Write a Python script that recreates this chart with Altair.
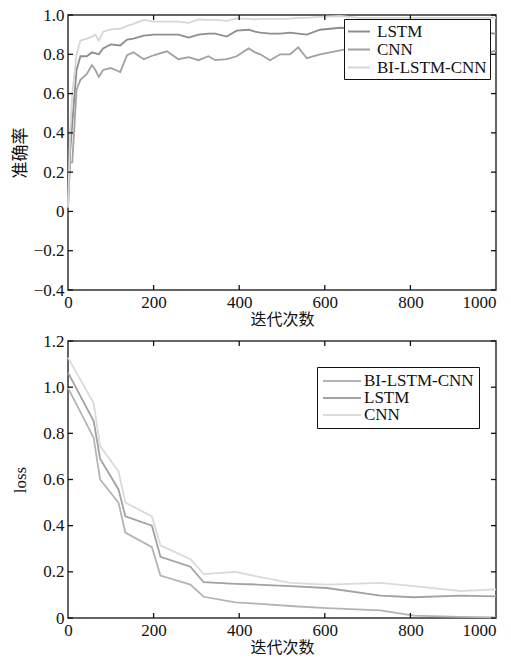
import altair as alt
import pandas as pd

# ---- accuracy chart data ----
acc_iter = [0, 5, 10, 20, 29, 44, 56, 64, 72, 82, 100, 122, 138, 153, 177, 200, 231, 258, 282, 305,
            328, 344, 371, 394, 422, 437, 449, 472, 496, 519, 538, 558, 589, 636, 680, 720, 760,
            800, 840, 880, 920, 960, 1000]
acc_lstm = [0.02, 0.30, 0.45, 0.72, 0.79, 0.79, 0.81, 0.805, 0.80, 0.83, 0.85, 0.845, 0.875, 0.88,
            0.895, 0.90, 0.90, 0.90, 0.885, 0.90, 0.905, 0.905, 0.89, 0.92, 0.925, 0.915, 0.91,
            0.905, 0.905, 0.91, 0.905, 0.90, 0.925, 0.935, 0.93, 0.925, 0.93, 0.925, 0.92, 0.92,
            0.915, 0.91, 0.905]
acc_cnn = [0.02, 0.25, 0.25, 0.62, 0.67, 0.70, 0.745, 0.72, 0.685, 0.72, 0.73, 0.71, 0.795, 0.81,
           0.775, 0.795, 0.815, 0.775, 0.785, 0.77, 0.79, 0.77, 0.775, 0.79, 0.83, 0.81, 0.80,
           0.77, 0.80, 0.80, 0.835, 0.78, 0.80, 0.82, 0.84, 0.85, 0.86, 0.85, 0.83, 0.82, 0.81,
           0.79, 0.82]
acc_bi = [0.02, 0.40, 0.60, 0.80, 0.87, 0.88, 0.89, 0.90, 0.87, 0.915, 0.927, 0.93, 0.945, 0.955,
          0.975, 0.966, 0.966, 0.966, 0.96, 0.978, 0.975, 0.975, 0.97, 0.983, 0.98, 0.978, 0.98,
          0.98, 0.98, 0.982, 0.985, 0.985, 0.99, 0.995, 0.985, 0.985, 0.985, 0.985, 0.985, 0.985,
          0.985, 0.985, 0.985]

# ---- loss chart data ----
loss_iter = [0, 60, 75, 118, 134, 196, 216, 286, 317, 391, 441, 519, 605, 730, 808, 917, 1000]
loss_cnn = [1.128, 0.93, 0.745, 0.635, 0.50, 0.44, 0.315, 0.255, 0.19, 0.20, 0.18, 0.152, 0.145,
            0.152, 0.138, 0.117, 0.124]
loss_lstm = [1.063, 0.853, 0.69, 0.557, 0.44, 0.40, 0.265, 0.222, 0.155, 0.148, 0.145, 0.138, 0.13,
             0.097, 0.09, 0.097, 0.094]
loss_bi = [0.997, 0.78, 0.60, 0.50, 0.37, 0.307, 0.184, 0.145, 0.092, 0.068, 0.062, 0.052, 0.043,
           0.033, 0.01, 0.005, 0.003]

acc_names = ["LSTM", "CNN", "BI-LSTM-CNN"]
loss_names = ["BI-LSTM-CNN", "LSTM", "CNN"]
acc_colors = ["#8e8e8e", "#a2a2a2", "#d6d6d6"]
loss_colors = ["#b4b4b4", "#a2a2a2", "#dadada"]

x_ticks = [0, 200, 400, 600, 800, 1000]
inner_x_ticks = [200, 400, 600, 800]
acc_y_ticks = [-0.4, -0.2, 0, 0.2, 0.4, 0.6, 0.8, 1.0]
loss_y_ticks = [0, 0.2, 0.4, 0.6, 0.8, 1.0, 1.2]

W, H1, H2 = 428, 275, 277
SERIF = "'Liberation Serif', 'Times New Roman', 'DejaVu Serif', serif"
CJK = "'Noto Sans CJK SC', sans-serif"

acc_df = pd.concat([
    pd.DataFrame({"iter": acc_iter, "value": acc_lstm, "model": "LSTM"}),
    pd.DataFrame({"iter": acc_iter, "value": acc_cnn, "model": "CNN"}),
    pd.DataFrame({"iter": acc_iter, "value": acc_bi, "model": "BI-LSTM-CNN"}),
])
loss_df = pd.concat([
    pd.DataFrame({"iter": loss_iter, "value": loss_bi, "model": "BI-LSTM-CNN"}),
    pd.DataFrame({"iter": loss_iter, "value": loss_lstm, "model": "LSTM"}),
    pd.DataFrame({"iter": loss_iter, "value": loss_cnn, "model": "CNN"}),
])


def make_panel(df, names, colors, ydom, yticks, ytitle, ytitle_font, h, lx, ly, sym_path,
               sym_size, pad_legend, label_offset):
    xs = alt.Scale(domain=[0, 1000], nice=False)
    ys = alt.Scale(domain=ydom, nice=False)
    xaxis = alt.Axis(values=x_ticks, title="迭代次数", ticks=False, domain=False, grid=False,
                     format="d", labelOverlap=False,
                     labelFont=SERIF, labelFontSize=17, labelColor="#111", labelPadding=4,
                     titleFont=CJK, titleFontSize=16, titleFontWeight="normal", titleColor="#111",
                     titlePadding=1,
                     labelAlign=alt.condition("datum.value == 1000", alt.value("right"), alt.value("center")))
    yaxis = alt.Axis(values=yticks, title=ytitle, ticks=False, domain=False, grid=False,
                     labelOverlap=False,
                     labelFont=SERIF, labelFontSize=17, labelColor="#111", labelPadding=4,
                     labelExpr="datum.value == 0 ? '0' : format(datum.value, '.1f')",
                     titleFont=ytitle_font, titleFontSize=17, titleFontWeight="normal",
                     titleColor="#111", titleX=-48, titleBaseline="middle")
    lines = alt.Chart(df).mark_line(strokeWidth=1.8).encode(
        x=alt.X("iter:Q", scale=xs, axis=xaxis),
        y=alt.Y("value:Q", scale=ys, axis=yaxis),
        color=alt.Color("model:N", sort=names,
                        scale=alt.Scale(domain=names, range=colors),
                        legend=alt.Legend(title=None, orient="none", legendX=lx, legendY=ly,
                                          strokeColor="#111", fillColor="white", padding=pad_legend,
                                          labelFont=SERIF, labelFontSize=17, labelColor="#111",
                                          labelLimit=300, rowPadding=0, symbolType=sym_path,
                                          symbolSize=sym_size, symbolStrokeWidth=2,
                                          labelOffset=label_offset)),
        order=alt.Order("iter:Q"),
    )
    tx = pd.DataFrame({"t": inner_x_ticks})
    ty = pd.DataFrame({"t": yticks})
    tick_style = dict(color="#111", strokeWidth=1.3)
    bottom_t = alt.Chart(tx).mark_rule(**tick_style).encode(
        x=alt.X("t:Q", scale=xs, axis=xaxis), y=alt.value(h - 5), y2=alt.value(h))
    top_t = alt.Chart(tx).mark_rule(**tick_style).encode(
        x=alt.X("t:Q", scale=xs, axis=xaxis), y=alt.value(0), y2=alt.value(5))
    left_t = alt.Chart(ty).mark_rule(**tick_style).encode(
        y=alt.Y("t:Q", scale=ys, axis=yaxis), x=alt.value(0), x2=alt.value(5))
    right_t = alt.Chart(ty).mark_rule(**tick_style).encode(
        y=alt.Y("t:Q", scale=ys, axis=yaxis), x=alt.value(W - 5), x2=alt.value(W))
    return alt.layer(lines, bottom_t, top_t, left_t, right_t).properties(width=W, height=h)


top = make_panel(acc_df, acc_names, acc_colors, [-0.4, 1.0], acc_y_ticks, "准确率", CJK, H1,
                 276, 4, "M-1,0L1.59,0", 289, 3, 11)
bottom = make_panel(loss_df, loss_names, loss_colors, [0, 1.2], loss_y_ticks, "loss", SERIF, H2,
                    249, 26, "M-1,0L3.75,0", 256, 5, 24)

chart = alt.vconcat(top, bottom, spacing=3).resolve_scale(color="independent").properties(
    padding={"left": 2, "top": -3, "right": 0, "bottom": 0}
).configure_view(stroke="#333", strokeWidth=1.5)

chart.save("out.html", embed_options={"renderer": "svg", "actions": False})
